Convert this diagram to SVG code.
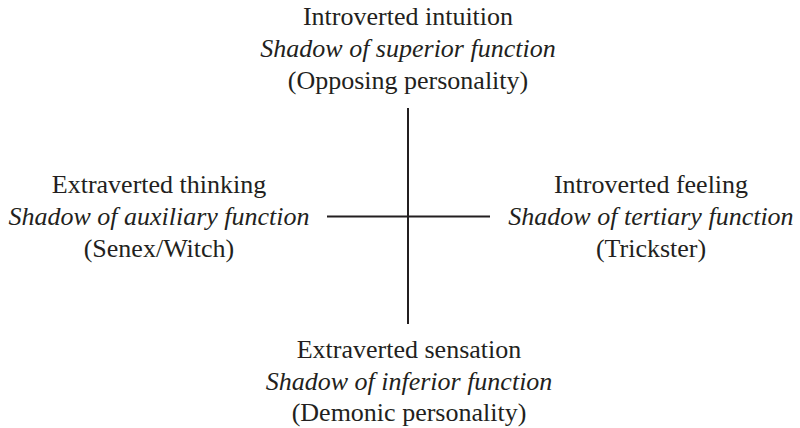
<svg xmlns="http://www.w3.org/2000/svg" width="800" height="428" viewBox="0 0 800 428">
<style>
text{font-family:"Liberation Serif","Times New Roman",serif;font-size:26px;fill:#231f20;text-anchor:middle}
.i{font-style:italic}
.ln{stroke:#231f20;stroke-width:2;fill:none}
</style>
<rect width="800" height="428" fill="#fff"/>
<g id="connectors">
<line class="ln" x1="408" y1="108" x2="408" y2="324"/>
<line class="ln" x1="327" y1="216.5" x2="490" y2="216.5"/>
</g>
<g id="top">
<text x="408" y="25">Introverted intuition</text>
<text x="408" y="57" class="i">Shadow of superior function</text>
<text x="408" y="89">(Opposing personality)</text>
</g>
<g id="left">
<text x="159" y="193">Extraverted thinking</text>
<text x="159" y="225" class="i">Shadow of auxiliary function</text>
<text x="159" y="257">(Senex/Witch)</text>
</g>
<g id="right">
<text x="651" y="193">Introverted feeling</text>
<text x="651" y="225" class="i">Shadow of tertiary function</text>
<text x="651" y="257">(Trickster)</text>
</g>
<g id="bottom">
<text x="409" y="358">Extraverted sensation</text>
<text x="409" y="390" class="i">Shadow of inferior function</text>
<text x="409" y="421">(Demonic personality)</text>
</g>
</svg>
